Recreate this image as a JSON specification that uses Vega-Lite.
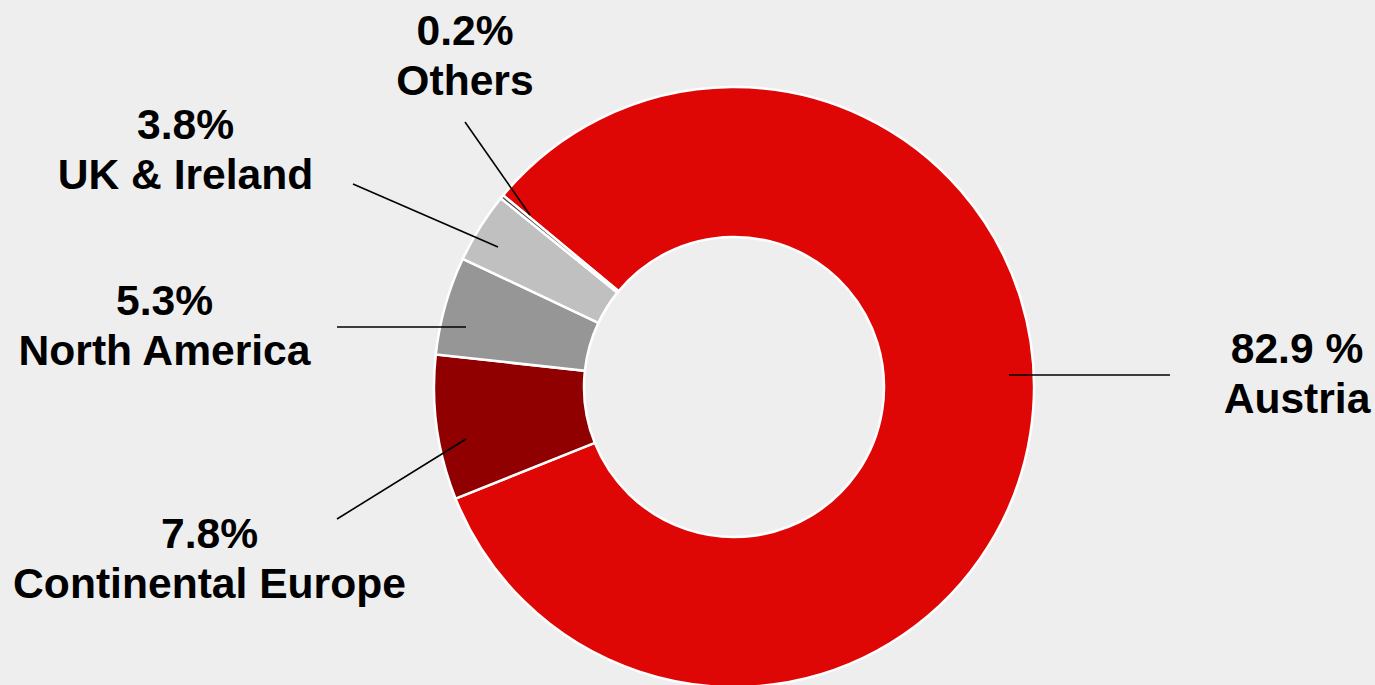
{
  "$schema": "https://vega.github.io/schema/vega-lite/v6.json",
  "width": 1375,
  "height": 685,
  "autosize": {"type": "none"},
  "padding": 0,
  "background": "#eeeeee",
  "config": {"view": {"stroke": null}, "text": {"lineBreak": "\n"}},
  "datasets": {
    "shares": [
      {"region": "Austria", "share": 82.9, "order": 1},
      {"region": "Continental Europe", "share": 7.8, "order": 2},
      {"region": "North America", "share": 5.3, "order": 3},
      {"region": "UK & Ireland", "share": 3.8, "order": 4},
      {"region": "Others", "share": 0.2, "order": 5}
    ],
    "labels": [
      {"region": "Austria", "label": "82.9 %\nAustria", "lx": 1.8767, "ly": 0.08},
      {"region": "Continental Europe", "label": "7.8%\nContinental Europe", "lx": -1.7483, "ly": -0.5367},
      {"region": "North America", "label": "5.3%\nNorth America", "lx": -1.8983, "ly": 0.24},
      {"region": "UK & Ireland", "label": "3.8%\nUK & Ireland", "lx": -1.8283, "ly": 0.8267},
      {"region": "Others", "label": "0.2%\nOthers", "lx": -0.8967, "ly": 1.14}
    ],
    "leaders": [
      {"region": "Austria", "x1": 0.9167, "y1": 0.04, "x2": 1.4533, "y2": 0.04},
      {"region": "Continental Europe", "x1": -0.8933, "y1": -0.1733, "x2": -1.3233, "y2": -0.44},
      {"region": "North America", "x1": -0.8933, "y1": 0.2, "x2": -1.3233, "y2": 0.2},
      {"region": "UK & Ireland", "x1": -0.7867, "y1": 0.4667, "x2": -1.27, "y2": 0.6767},
      {"region": "Others", "x1": -0.68, "y1": 0.5733, "x2": -0.8967, "y2": 0.8833}
    ]
  },
  "layer": [
    {
      "data": {"name": "shares"},
      "mark": {"type": "arc", "outerRadius": 300, "innerRadius": 150, "stroke": "#ffffff", "strokeWidth": 2.5},
      "encoding": {
        "theta": {"field": "share", "type": "quantitative", "stack": true, "scale": {"range": [-0.8779, 5.4053]}},
        "order": {"field": "order", "type": "quantitative"},
        "color": {
          "field": "region",
          "type": "nominal",
          "scale": {
            "domain": ["Austria", "Continental Europe", "North America", "UK & Ireland", "Others"],
            "range": ["#df0606", "#900000", "#969696", "#c0c0c0", "#404040"]
          },
          "legend": null
        },
        "x": {"datum": 0, "type": "quantitative", "scale": {"domain": [-2.4467, 2.1367], "nice": false, "zero": false}, "axis": null},
        "y": {"datum": 0, "type": "quantitative", "scale": {"domain": [-0.9933, 1.29], "nice": false, "zero": false}, "axis": null}
      }
    },
    {
      "data": {"name": "leaders"},
      "mark": {"type": "rule", "stroke": "#000000", "strokeWidth": 1.6},
      "encoding": {
        "x": {"field": "x1", "type": "quantitative"},
        "y": {"field": "y1", "type": "quantitative"},
        "x2": {"field": "x2"},
        "y2": {"field": "y2"}
      }
    },
    {
      "data": {"name": "labels"},
      "mark": {"type": "text", "font": "Liberation Sans", "fontWeight": "bold", "fontSize": 42.6, "lineHeight": 50, "align": "center", "baseline": "alphabetic", "color": "#000000"},
      "encoding": {
        "x": {"field": "lx", "type": "quantitative"},
        "y": {"field": "ly", "type": "quantitative"},
        "text": {"field": "label"}
      }
    }
  ]
}
